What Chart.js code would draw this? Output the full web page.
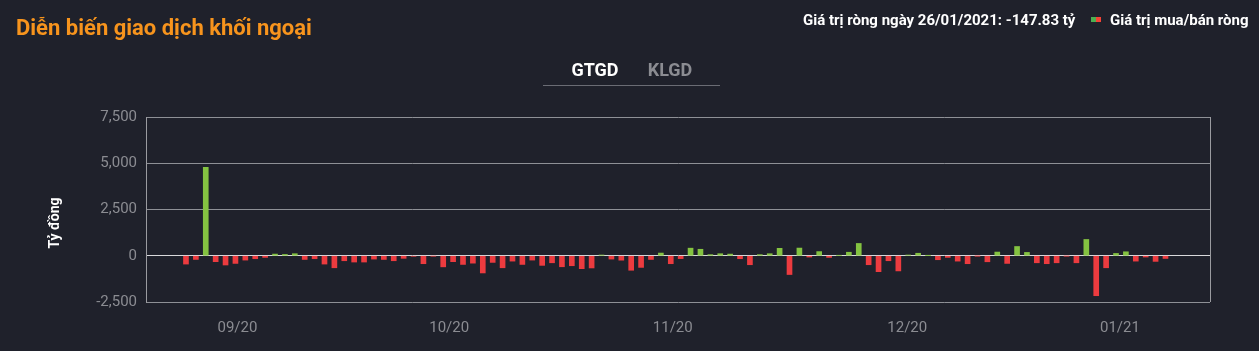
<!DOCTYPE html>
<html>
<head>
<meta charset="utf-8">
<script src="https://cdn.jsdelivr.net/npm/chart.js@4"></script>
<style>
  html, body { margin: 0; padding: 0; background: #1f212b; }
  body { width: 1259px; height: 351px; position: relative; overflow: hidden; font-family: Roboto, "Noto Sans", sans-serif; }
  #wrap { position: absolute; left: 0; top: 0; width: 1259px; height: 351px; }
  .title { position: absolute; left: 16px; top: 15px; color: #f7941d; font-size: 22px; font-weight: bold; }
  .info { position: absolute; left: 803px; top: 11px; color: #fff; font-size: 15px; font-weight: bold; }
  .legend { position: absolute; left: 1091px; top: 11px; color: #fff; font-size: 15px; font-weight: bold; }
  .legend i { display: inline-block; width: 5px; height: 5px; vertical-align: 3px; }
  .tabs { position: absolute; left: 543px; top: 56px; width: 177px; height: 29px; border-bottom: 1px solid #6a6c74; font-size: 18px; font-weight: bold; }
  .tabs span { position: absolute; top: 3px; transform: translateX(-50%); }
</style>
</head>
<body>
<div id="wrap"><canvas id="chart" width="1259" height="351"></canvas></div>
<div class="title">Diễn biến giao dịch khối ngoại</div>
<div class="info" id="info"></div>
<div class="legend"><i style="background:#4caf50"></i><i style="background:#f44336;margin-right:9px"></i>Giá trị mua/bán ròng</div>
<div class="tabs"><span style="left:52px;color:#fff">GTGD</span><span style="left:127px;color:#8b8c92">KLGD</span></div>
<script>
// net foreign buy/sell value per session, billion VND
const netValues = [
  -450, -200, 4780, -320, -500, -415, -235, -160, -90, 90,
  70, 110, -200, -160, -450, -650, -270, -340, -340, -180,
  -200, -270, -140, -30, -430, -20, -600, -320, -470, -400,
  -930, -360, -650, -290, -470, -235, -520, -380, -595, -540,
  -700, -660, 40, -180, -240, -785, -630, -200, 145, -430,
  -155, 410, 350, 60, 110, 90, -160, -485, 60, 110,
  400, -1015, 415, -70, 225, -90, 15, 190, 665, -485,
  -860, -270, -820, 40, 135, 10, -215, -90, -290, -430,
  -10, -325, 200, -415, 500, 180, -380, -430, -380, -15,
  -380, 880, -2160, -650, 125, 215, -290, -70, -305, -147.83
];
const sessions = netValues.map((v, i) => i);
const monthLabels = ['09/20', '10/20', '11/20', '12/20', '01/21'];
const monthTickAt = [5.2, 26.6, 49.2, 72.9, 94.4];
const yTicks = [-2500, 0, 2500, 5000, 7500];
const lastDate = '26/01/2021';
const lastValue = -147.83;

document.getElementById('info').textContent =
  'Giá trị ròng ngày ' + lastDate + ': ' + lastValue.toFixed(2) + ' tỷ';

const extras = {
  id: 'extras',
  afterDraw(chart) {
    const c = chart.ctx, a = chart.chartArea;
    c.save();
    c.strokeStyle = '#9a9ba0';
    c.lineWidth = 1;
    c.beginPath();
    c.moveTo(a.right + 0.5, a.top);
    c.lineTo(a.right + 0.5, a.bottom);
    c.stroke();
    c.translate(55, 223);
    c.rotate(-Math.PI / 2);
    c.fillStyle = '#fff';
    c.font = 'bold 14px Roboto';
    c.textAlign = 'center';
    c.textBaseline = 'middle';
    c.fillText('Tỷ đồng', 0, 0);
    c.restore();
  }
};

new Chart(document.getElementById('chart'), {
  type: 'bar',
  data: {
    labels: sessions,
    datasets: [{
      label: 'Giá trị mua/bán ròng',
      data: netValues,
      backgroundColor: netValues.map(v => v >= 0 ? '#84c341' : '#ec3b3f'),
      barThickness: 5
    }]
  },
  plugins: [extras],
  options: {
    responsive: false,
    animation: false,
    layout: { padding: { left: 0, right: 49, top: 117, bottom: 0 } },
    plugins: { legend: { display: false }, tooltip: { enabled: false } },
    scales: {
      x: {
        type: 'linear',
        offset: false,
        min: -4.04,
        max: 103.5,
        grid: { display: false, drawTicks: false },
        border: { display: false },
        afterBuildTicks: s => { s.ticks = monthTickAt.map(v => ({ value: v })); },
        afterFit: s => { s.height = 49; },
        ticks: {
          autoSkip: false,
          maxRotation: 0,
          padding: 17,
          color: '#8b8c92',
          font: { family: 'Roboto', size: 15 },
          callback: v => monthLabels[monthTickAt.indexOf(v)]
        }
      },
      y: {
        min: -2500,
        max: 7500,
        afterBuildTicks: s => { s.ticks = yTicks.map(v => ({ value: v })); },
        afterFit: s => { s.width = 146; },
        grid: {
          color: c => c.tick && c.tick.value === 0 ? '#d9d9dc' : '#8e9096',
          drawTicks: false
        },
        border: { display: true, color: '#9a9ba0' },
        ticks: {
          padding: 9,
          color: '#8b8c92',
          font: { family: 'Roboto', size: 15 },
          callback: v => v.toLocaleString('en-US')
        }
      }
    }
  }
});
</script>
</body>
</html>
